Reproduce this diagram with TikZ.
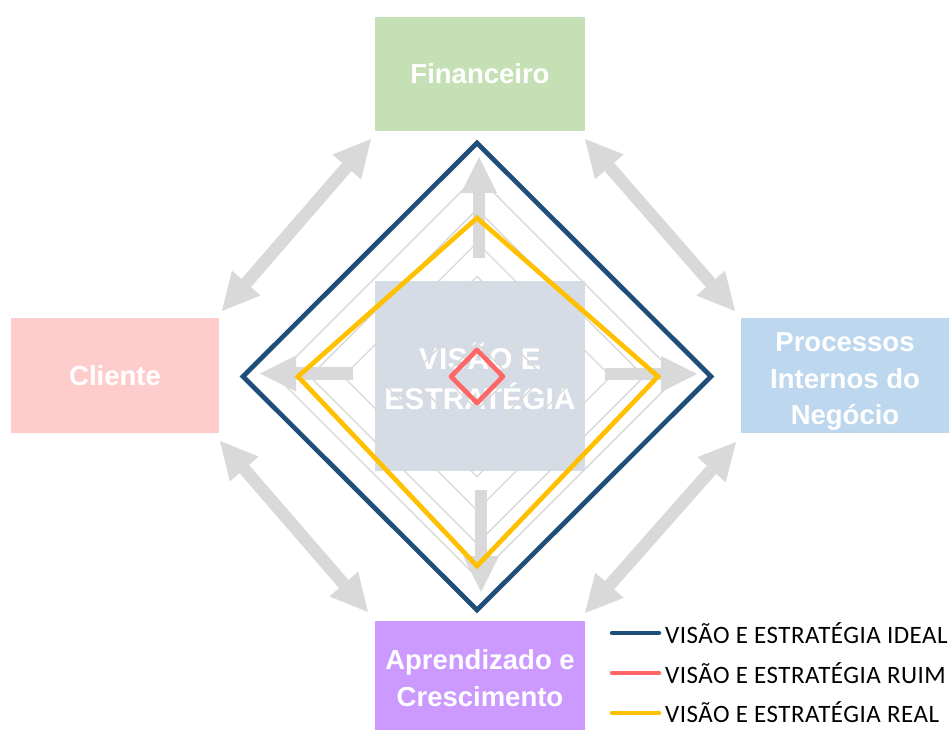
\documentclass[tikz,border=0pt]{standalone}
\usepackage{fontspec}
\setmainfont{Liberation Sans}
\newfontfamily\legfont[LetterSpace=2]{Carlito}
\usetikzlibrary{arrows.meta,calc}
\definecolor{cgreen}{HTML}{C5E0B4}
\definecolor{cpink}{HTML}{FFCCCC}
\definecolor{cblue}{HTML}{BDD7EE}
\definecolor{cpurple}{HTML}{CC99FF}
\definecolor{ccenter}{HTML}{D6DCE5}
\definecolor{arrowgray}{HTML}{D9D9D9}
\definecolor{gridgray}{HTML}{D9D9D9}
\definecolor{ideal}{HTML}{1F4E79}
\definecolor{ruim}{HTML}{FF6666}
\definecolor{real}{HTML}{FFC000}
\tikzset{
  box/.style={rectangle, inner sep=0pt, text=white, align=center,
    font=\bfseries\fontsize{27.5}{36.5}\selectfont},
  dblarrow/.style={draw=arrowgray, line width=12.5pt, line cap=butt,
    {Triangle[width=38pt,length=37pt,line width=0pt]}-{Triangle[width=38pt,length=37pt,line width=0pt]}},
  sglarrow/.style={draw=arrowgray, line width=12.5pt, line cap=butt,
    -{Triangle[width=36pt,length=36pt,line width=0pt]}},
  gridline/.style={draw=gridgray, line width=1.3pt},
  series/.style={line width=4.7pt, line join=miter},
  legline/.style={line width=4.5pt, line cap=round},
  legtext/.style={anchor=base west, inner sep=0pt, text=black,
    font=\legfont\fontsize{25}{28}\selectfont}
}
\begin{document}
\begin{tikzpicture}[x=1pt,y=-1pt]
\useasboundingbox (0,0) rectangle (950,730);
\begin{scope}
\clip (0,0) rectangle (950,730);
% boxes
\node[box, fill=cgreen, minimum width=210pt, minimum height=114pt] (fin) at (480,74) {Financeiro};
\node[box, fill=cpink, minimum width=208pt, minimum height=115pt] (cli) at (115,375.5) {Cliente};
\node[box, fill=cblue, minimum width=208pt, minimum height=115pt] (proc) at (845,375.5) {\rule{0pt}{31pt}Processos\\Internos do\\Negócio};
\node[box, fill=cpurple, minimum width=210pt, minimum height=114pt] (apr) at (480,678) {Aprendizado e\\Crescimento};
\node[box, fill=ccenter, minimum width=210pt, minimum height=190pt,
  font=\bfseries\fontsize{30}{40}\selectfont] (vis) at (480,376) {VISÃO E\\ESTRATÉGIA};
\end{scope}
% double arrows between boxes
\coordinate (tlA) at (222,311); \coordinate (tlB) at (371,139);
\coordinate (trA) at (585,139); \coordinate (trB) at (735,311);
\coordinate (blA) at (220,441); \coordinate (blB) at (368,612);
\coordinate (brA) at (585,613); \coordinate (brB) at (736,442);
\draw[dblarrow] (tlA) -- (tlB);
\draw[dblarrow] (trA) -- (trB);
\draw[dblarrow] (blA) -- (blB);
\draw[dblarrow] (brA) -- (brB);
% single arrows from center
\coordinate (upS) at (479,258); \coordinate (upT) at (479,157);
\coordinate (lfS) at (353,373.5); \coordinate (lfT) at (260,373.5);
\coordinate (rtS) at (605,374); \coordinate (rtT) at (697,374);
\coordinate (dnS) at (481,490); \coordinate (dnT) at (481,592);
\draw[sglarrow] (upS) -- (upT);
\draw[sglarrow] (lfS) -- (lfT);
\draw[sglarrow] (rtS) -- (rtT);
\draw[sglarrow] (dnS) -- (dnT);
% radar grid
\coordinate (rc) at (477,376.5);
\foreach \r in {33.4,66.9,100.3,133.7,167.1,200.6,234} {
  \draw[gridline] ($(rc)+(0,-\r)$) -- ($(rc)+(\r,0)$) -- ($(rc)+(0,\r)$) -- ($(rc)+(-\r,0)$) -- cycle;
}
% series
\draw[series, draw=real] (477,218) -- (658,376.5) -- (477,566) -- (298,376.5) -- cycle;
\draw[series, draw=ideal] (477,143) -- (711,376.5) -- (477,610) -- (243,376.5) -- cycle;
\draw[series, draw=ruim, line join=round] (477,350) -- (503,376.5) -- (477,403) -- (451,376.5) -- cycle;
% legend
\coordinate (l1a) at (612,633); \coordinate (l1b) at (659,633);
\coordinate (l2a) at (612,673); \coordinate (l2b) at (659,673);
\coordinate (l3a) at (612,713); \coordinate (l3b) at (659,713);
\draw[legline, draw=ideal] (l1a) -- (l1b);
\draw[legline, draw=ruim] (l2a) -- (l2b);
\draw[legline, draw=real] (l3a) -- (l3b);
\node[legtext] (t1) at (665,643) {VISÃO E ESTRATÉGIA IDEAL};
\node[legtext] (t2) at (665,683) {VISÃO E ESTRATÉGIA RUIM};
\node[legtext] (t3) at (665,722) {VISÃO E ESTRATÉGIA REAL};
\end{tikzpicture}
\end{document}
